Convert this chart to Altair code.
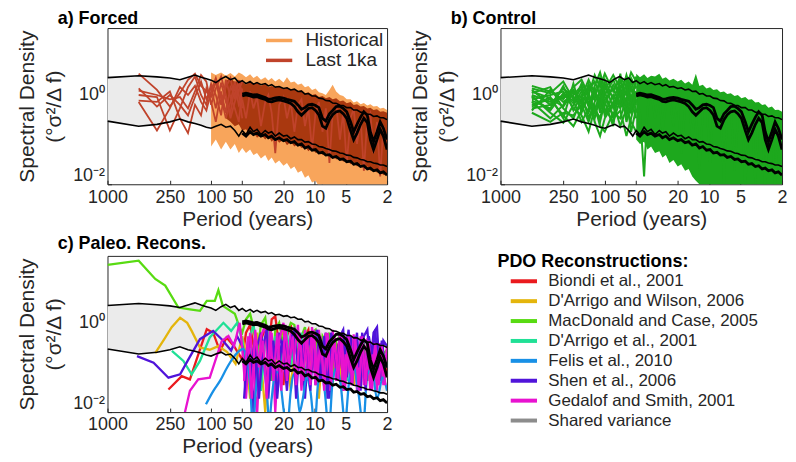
import altair as alt
import pandas as pd

FONT = "Liberation Sans"
INK = "#262626"

# ---------------- shared period grid (years) ----------------
P_SV = [1000, 500, 333, 250, 200, 167, 143, 125, 111, 100, 90, 80, 72, 65, 59, 54,
        50, 46, 42, 39, 36, 33, 30, 28, 26, 24, 22, 20, 18.5, 17, 15.7, 14.5, 13.4, 12.4,
        11.5, 10.6, 9.8, 9.1, 8.4, 7.8, 7.2, 6.7, 6.2, 5.7, 5.3, 4.9, 4.5, 4.2, 3.9, 3.6,
        3.35, 3.1, 2.9, 2.7, 2.5, 2.33, 2.17, 2.0]
GRID_R = P_SV[16:]
P_HIST = P_SV[9:]
P_LKA = P_SV[12:]
# in-between periods for the densest (short-period) part
GRID_F = [48, 44, 40.5, 37.5, 34.5, 31.5, 29, 27, 25, 23, 21, 19.2, 17.7, 16.3, 15.1, 13.9,
          12.9, 11.9, 11.0, 10.2, 9.45, 8.75, 8.1, 7.5, 6.95, 6.45, 5.95, 5.5, 5.1, 4.7, 4.35,
          4.05, 3.75, 3.47, 3.22, 3.0, 2.8, 2.6, 2.41, 2.25, 2.08]

# shared-variance envelope (upper / lower black lines)
SV_HI = [2.45, 2.7, 2.55, 2.4, 2.2, 2.5, 2.8, 2.5, 2.3, 2.15, 1.9, 2.3, 2.6, 2.2, 2.4, 1.9,
         2.1, 1.8, 2.0, 1.75, 1.9, 1.7, 1.8, 1.6, 1.7, 1.5, 1.55, 1.4, 1.45, 1.3, 1.35, 1.2,
         1.22, 1.05, 1.08, 0.95, 0.95, 0.85, 0.83, 0.75, 0.74, 0.66, 0.65, 0.59, 0.58, 0.52,
         0.52, 0.46, 0.46, 0.41, 0.41, 0.37, 0.37, 0.33, 0.34, 0.31, 0.31, 0.28]
SV_LO = [0.26, 0.2, 0.22, 0.25, 0.29, 0.25, 0.23, 0.21, 0.19, 0.18, 0.2, 0.22, 0.19, 0.2, 0.16, 0.12,
         0.16, 0.13, 0.19, 0.15, 0.17, 0.13, 0.16, 0.14, 0.15, 0.12, 0.14, 0.12, 0.125, 0.105, 0.115, 0.1,
         0.1, 0.088, 0.09, 0.08, 0.078, 0.07, 0.068, 0.063, 0.06, 0.056, 0.055, 0.05, 0.049, 0.045,
         0.044, 0.04, 0.039, 0.036, 0.035, 0.032, 0.032, 0.03, 0.029, 0.027, 0.027, 0.025]

# thick black mean spectra (on GRID_R)
MEAN_1 = [1.05, 1.1, 1.05, 1.0, 1.02, 0.95, 0.88, 0.8, 0.82, 0.86, 0.88, 0.85, 0.8, 0.76, 0.72, 0.6,
          0.48, 0.52, 0.6, 0.62, 0.58, 0.52, 0.3, 0.26, 0.38, 0.45, 0.55, 0.56, 0.5, 0.42, 0.25, 0.15,
          0.22, 0.32, 0.42, 0.35, 0.15, 0.09, 0.15, 0.25, 0.18, 0.1]
MEAN_2 = [0.95, 1.0, 0.95, 0.9, 0.92, 0.85, 0.8, 0.72, 0.7, 0.75, 0.78, 0.74, 0.7, 0.65, 0.55, 0.42,
          0.35, 0.42, 0.5, 0.52, 0.45, 0.36, 0.2, 0.18, 0.28, 0.36, 0.42, 0.44, 0.38, 0.3, 0.16, 0.1,
          0.14, 0.22, 0.3, 0.24, 0.1, 0.06, 0.1, 0.17, 0.12, 0.06]
MEAN_3 = [0.14, 0.12, 0.15, 0.13, 0.14, 0.12, 0.13, 0.11, 0.12, 0.1, 0.11, 0.095, 0.1, 0.085, 0.09, 0.075,
          0.08, 0.065, 0.07, 0.058, 0.06, 0.05, 0.052, 0.045, 0.046, 0.04, 0.042, 0.036, 0.037, 0.032,
          0.033, 0.028, 0.029, 0.025, 0.026, 0.022, 0.023, 0.02, 0.021, 0.018, 0.019, 0.016]

# ---------------- a) Forced ----------------
HIST_TOP = [3.2, 2.8, 3.2, 2.7, 3.1, 2.6, 3.2, 2.9, 2.5, 2.9, 2.4, 2.7, 2.2, 2.5, 2.1, 2.4, 2.0,
            2.3, 1.9, 2.5, 1.9, 2.0, 1.7, 1.8, 1.5, 1.6, 1.3, 1.4, 1.15, 1.1, 1.0, 1.3, 1.7, 1.2,
            1.0, 0.95, 0.8, 0.8, 0.68, 0.72, 0.62, 0.66, 0.58, 0.62, 0.55, 0.57, 0.5, 0.52, 0.46]
HIST_BOT = [0.07, 0.1, 0.06, 0.09, 0.06, 0.08, 0.05, 0.065, 0.05, 0.06, 0.045, 0.05, 0.038, 0.045,
            0.033, 0.04, 0.029, 0.034, 0.026, 0.03, 0.022, 0.025, 0.018, 0.02, 0.014, 0.016, 0.011,
            0.012, 0.009, 0.01, 0.008, 0.009, 0.008, 0.008, 0.008, 0.008, 0.008, 0.008, 0.008, 0.008,
            0.008, 0.008, 0.008, 0.008, 0.008, 0.008, 0.008, 0.008, 0.008]
# Last 1ka dense core (on P_LKA, from 72 yr)
LK_TOP = [2.0, 2.5, 1.9, 2.2, 2.0, 1.7, 2.0, 1.8, 1.9, 1.6, 1.8, 1.5, 1.6, 1.45,
          1.6, 1.35, 1.5, 1.3, 1.35, 1.2, 1.3, 1.1, 1.15, 1.0, 1.05, 0.9, 0.95, 0.85, 0.9, 0.8, 0.85,
          0.72, 0.75, 0.65, 0.7, 0.6, 0.62, 0.55, 0.57, 0.5, 0.52, 0.46, 0.48, 0.42, 0.43, 0.4]
LK_BOT = [0.3, 0.25, 0.2, 0.22, 0.16, 0.17, 0.13, 0.15, 0.11, 0.13, 0.1, 0.12, 0.09,
          0.11, 0.085, 0.1, 0.075, 0.09, 0.07, 0.08, 0.065, 0.07, 0.055, 0.065, 0.05, 0.055, 0.045,
          0.05, 0.04, 0.045, 0.036, 0.04, 0.032, 0.036, 0.028, 0.032, 0.025, 0.028, 0.022, 0.025,
          0.02, 0.022, 0.018, 0.02, 0.016, 0.018]
LK_SPIKE = [0.8, 0.3, 1.2, 0.5, 0.9, 0.2, 0.7, 1.0, 0.4, 0.05, 0.6, 0.9, 0.3, 0.7, 0.15, 0.6, 0.8,
            0.2, 0.5, 0.06, 0.4, 0.7, 0.15, 0.5, 0.03, 0.4, 0.6, 0.1, 0.4, 0.03, 0.3, 0.5, 0.08, 0.3,
            0.02, 0.3, 0.4, 0.05, 0.25, 0.015, 0.2, 0.1]
P_LK = [500, 333, 250, 200, 167, 143, 125, 111, 100, 90, 80, 72, 65, 59, 54, 50]
LK_L1 = [3.0, 1.3, 0.55, 1.1, 2.2, 3.0, 1.6, 1.2, 0.9, 2.0, 0.6, 1.5, 2.4, 0.8, 1.8, 1.2]
LK_L2 = [1.4, 0.55, 1.0, 0.6, 0.35, 0.9, 2.0, 0.8, 1.5, 0.5, 1.9, 0.7, 0.4, 1.6, 0.6, 0.9]
LK_L3 = [1.0, 0.9, 0.16, 0.5, 1.5, 2.6, 1.0, 0.6, 1.8, 1.0, 0.35, 2.2, 0.9, 0.5, 0.25, 1.4]
LK_L4 = [0.75, 0.7, 1.2, 0.3, 0.14, 0.6, 0.35, 1.4, 0.7, 0.25, 1.2, 0.4, 1.5, 1.0, 2.1, 0.5]
LK_L5 = [0.7, 0.16, 0.5, 1.5, 1.0, 1.6, 0.7, 0.45, 1.2, 2.4, 0.9, 0.3, 0.7, 2.0, 1.0, 0.3]
LK_L6 = [1.25, 1.0, 0.8, 0.9, 0.5, 1.2, 2.8, 2.0, 0.6, 1.4, 2.6, 1.0, 0.3, 0.7, 1.3, 2.0]

# ---------------- b) Control ----------------
P_GL = [500, 333, 250, 200, 167, 143, 125, 111, 100, 83, 71, 62, 56, 50]
CTRL_LEFT = [
    [1.6, 1.2, 0.8, 1.5, 2.2, 1.0, 2.8, 1.5, 3.0, 1.2, 2.5, 1.5, 3.2, 2.0],
    [1.3, 0.6, 1.4, 0.9, 0.5, 1.8, 0.8, 2.4, 1.0, 2.2, 0.9, 2.8, 1.2, 1.6],
    [1.1, 1.5, 0.5, 0.3, 0.8, 0.4, 1.2, 0.6, 1.8, 0.5, 1.3, 0.7, 0.4, 1.0],
    [0.95, 0.4, 0.24, 0.6, 1.2, 0.7, 0.3, 0.9, 0.5, 0.25, 0.8, 0.35, 0.9, 0.6],
    [0.8, 1.0, 1.2, 0.5, 0.35, 0.15, 0.5, 0.3, 0.8, 1.4, 0.6, 1.9, 0.8, 0.3],
    [0.7, 0.3, 0.6, 1.3, 0.7, 1.3, 2.0, 1.0, 0.35, 0.7, 0.2, 0.5, 0.25, 0.15],
    [0.6, 0.8, 0.35, 0.2, 0.45, 0.9, 0.25, 0.12, 0.3, 0.6, 1.5, 0.25, 0.6, 1.2],
    [0.5, 0.6, 1.0, 0.75, 0.25, 0.5, 1.5, 0.4, 1.2, 0.3, 0.45, 0.12, 0.3, 0.8],
    [0.45, 1.3, 0.7, 1.0, 1.6, 0.6, 0.9, 2.0, 0.6, 1.7, 1.0, 0.6, 1.6, 0.4],
    [0.4, 0.25, 0.4, 0.35, 0.6, 0.25, 0.6, 0.2, 0.15, 0.4, 0.3, 0.9, 0.15, 0.5],
    [1.0, 0.7, 0.9, 1.1, 0.9, 2.2, 1.1, 0.7, 2.2, 0.8, 2.0, 1.0, 2.4, 1.4],
    [0.75, 0.5, 1.6, 0.45, 1.0, 0.3, 0.7, 1.2, 0.4, 1.0, 0.5, 1.3, 0.5, 2.6],
    [0.55, 0.9, 0.3, 1.8, 0.4, 1.1, 0.45, 0.25, 0.7, 0.2, 3.0, 0.4, 1.0, 0.7],
    [1.4, 1.1, 2.0, 0.8, 1.4, 0.55, 1.6, 3.2, 1.3, 2.8, 1.4, 2.2, 0.7, 2.5],
    [0.9, 0.45, 1.1, 0.65, 1.8, 0.95, 0.4, 1.3, 0.9, 0.35, 1.1, 0.6, 2.0, 0.9],
    [1.2, 0.85, 0.55, 1.2, 0.6, 1.5, 1.3, 0.55, 1.5, 0.9, 0.7, 1.7, 0.5, 1.1],
]
CTRL_TOP = [3.0, 2.5, 2.9, 2.4, 2.7, 2.6, 3.0, 2.3, 2.5, 2.1, 2.3, 2.0, 2.2, 1.8, 2.0, 1.7, 3.0,
            1.6, 1.7, 1.4, 1.5, 1.3, 1.35, 1.15, 1.2, 1.05, 1.1, 0.95, 1.0, 0.85, 0.9, 0.78, 0.8,
            0.68, 0.7, 0.6, 0.62, 0.52, 0.55, 0.46, 0.47, 0.42]
CTRL_BOT = [0.1, 0.08, 0.09, 0.06, 0.07, 0.05, 0.055, 0.04, 0.045, 0.03, 0.035, 0.025, 0.028, 0.02,
            0.022, 0.015, 0.012, 0.01, 0.008, 0.008, 0.008, 0.008, 0.008, 0.008, 0.008, 0.008, 0.008,
            0.008, 0.008, 0.008, 0.008, 0.008, 0.008, 0.008, 0.008, 0.008, 0.008, 0.008, 0.008, 0.008,
            0.008, 0.008]
CTRL_SPIKE = [0.8, 0.4, 0.015, 0.5, 1.2, 0.3, 0.9, 0.15, 0.6, 1.0, 0.2, 0.7, 0.05, 0.5, 0.9, 0.1,
              0.6, 0.02, 0.4, 0.7, 0.03, 0.5, 0.2, 0.6, 0.01, 0.4, 0.5, 0.02, 0.3, 0.5, 0.008, 0.3,
              0.4, 0.01, 0.3, 0.2, 0.006, 0.25, 0.3, 0.008, 0.2, 0.1]

# ---------------- c) Paleo reconstructions ----------------
RECON_NAMES = ["Biondi et al., 2001", "D'Arrigo and Wilson, 2006", "MacDonald and Case, 2005",
               "D'Arrigo et al., 2001", "Felis et al., 2010", "Shen et al., 2006",
               "Gedalof and Smith, 2001", "Shared variance"]
RECON_COLORS = ["#EA1A1E", "#E4B50C", "#58DB12", "#20E096", "#1890E6", "#5014DA", "#E812D0", "#8C8C8C"]

BIO_P = [258, 192, 160, 110, 95.5, 82, 71, 60]
BIO_V = [0.032, 0.064, 0.054, 0.72, 0.6, 0.23, 0.47, 0.3]
BIO_R = [0.15, 0.6, 0.9, 0.3, 0.05, 0.4, 0.8, 0.2, 1.2, 1.4, 0.3, 0.04, 0.5, 0.9, 0.25, 0.6, 0.08,
         0.5, 0.7, 0.12, 0.4, 0.6, 0.05, 0.3, 0.5, 0.1, 0.35, 0.2, 0.03, 0.3, 0.4, 0.07, 0.25, 0.15,
         0.3, 0.05, 0.2, 0.25, 0.04, 0.15, 0.2, 0.08]
DAW_P = [346, 280, 240, 199, 170, 154, 128, 103, 85, 70, 58]
DAW_V = [0.21, 0.45, 0.8, 1.3, 1.0, 0.66, 0.28, 0.25, 0.3, 0.22, 0.12]
DAW_R = [0.5, 0.2, 0.02, 0.3, 0.6, 0.15, 0.01, 0.2, 0.5, 0.1, 0.4, 0.7, 0.2, 0.03, 0.3, 0.5, 0.1,
         0.3, 0.05, 0.4, 0.2, 0.02, 0.3, 0.4, 0.08, 0.2, 0.3, 0.05, 0.25, 0.1, 0.3, 0.04, 0.2, 0.25,
         0.06, 0.2, 0.1, 0.25, 0.05, 0.18, 0.1, 0.15]
MAC_P = [1000, 500, 346, 277, 207, 160, 128, 110, 92, 85, 77, 59, 53]
MAC_V = [20, 24.7, 9.6, 6.8, 2.2, 2.0, 1.86, 3.1, 3.1, 5.4, 2.4, 1.6, 0.78]
MAC_R = [0.6, 1.2, 1.6, 0.8, 0.2, 0.9, 1.3, 0.4, 0.05, 0.7, 1.0, 0.3, 0.6, 1.0, 0.9, 0.15, 0.5,
         0.8, 0.2, 0.6, 0.7, 0.1, 0.5, 0.35, 0.6, 0.04, 0.4, 0.5, 0.1, 0.4, 0.2, 0.45, 0.06, 0.3,
         0.35, 0.1, 0.3, 0.12, 0.3, 0.05, 0.2, 0.25]
DA1_P = [239, 185, 154, 128, 103, 76, 64, 56]
DA1_V = [0.235, 0.14, 0.07, 0.14, 0.47, 1.0, 0.66, 1.0]
DA1_R = [0.4, 0.1, 0.5, 0.9, 0.3, 0.03, 0.4, 0.7, 0.2, 0.5, 0.08, 0.4, 0.6, 0.1, 0.4, 0.3, 0.6,
         0.05, 0.3, 0.5, 0.1, 0.35, 0.2, 0.03, 0.3, 0.4, 0.1, 0.3, 0.15, 0.05, 0.25, 0.3, 0.08, 0.2,
         0.1, 0.25, 0.04, 0.2, 0.15, 0.06, 0.2, 0.1]
FEL_P = [112, 95, 82, 70, 61, 55, 49, 45, 42, 39.5, 37, 35, 33, 31, 29, 27.5, 26, 24.5, 23, 21.5,
         20, 18.5, 17, 16, 15, 14, 13, 12, 11, 10, 9.3, 8.6, 8, 7.3, 6.7, 6.1, 5.6, 5.1, 4.6, 4.2,
         3.8, 3.4, 3.1, 2.8, 2.5, 2.2, 2.0]
FEL_V = [0.015, 0.03, 0.05, 0.1, 0.166, 0.22, 0.26, 0.15, 0.04, 0.005, 0.03, 0.1, 0.15, 0.1, 0.03,
         0.006, 0.02, 0.06, 0.08, 0.05, 0.012, 0.004, 0.03, 0.07, 0.05, 0.01, 0.02, 0.06, 0.03, 0.005,
         0.04, 0.08, 0.03, 0.004, 0.05, 0.1, 0.04, 0.006, 0.06, 0.1, 0.03, 0.005, 0.07, 0.09, 0.02,
         0.06, 0.03]
SHE_P = [519, 359, 258, 199, 166, 128, 95.5, 79, 64, 56]
SHE_V = [0.18, 0.128, 0.059, 0.07, 0.15, 0.43, 0.66, 0.43, 0.24, 0.5]
SHE_R = [0.3, 0.05, 0.2, 0.01, 0.3, 0.6, 0.1, 0.02, 0.4, 0.15, 0.6, 0.2, 0.03, 0.5, 0.7, 0.1, 0.4,
         0.02, 0.3, 0.6, 0.04, 0.5, 0.3, 0.6, 0.02, 0.4, 0.15, 0.5, 0.7, 0.06, 0.5, 0.2, 0.6, 0.03,
         0.5, 0.7, 0.1, 0.6, 0.8, 0.05, 0.4, 0.3]
GED_P = [185, 160, 133, 103, 79, 68, 60, 53]
GED_V = [0.007, 0.03, 0.054, 0.059, 0.39, 0.51, 0.3, 1.0]
GED_R = [0.28, 0.02, 0.6, 0.1, 0.008, 0.5, 0.9, 0.05, 0.6, 0.01, 0.4, 1.0, 0.05, 0.6, 0.2, 0.9,
         0.03, 0.7, 0.05, 0.8, 0.04, 0.7, 0.06, 0.6, 0.03, 0.7, 0.05, 0.6, 0.03, 0.5, 0.04, 0.55,
         0.03, 0.5, 0.04, 0.45, 0.03, 0.4, 0.03, 0.35, 0.04, 0.3]
# second segments on the in-between grid (dense short-period part)
GED_F = [0.05, 0.5, 0.02, 0.7, 0.1, 0.4, 0.02, 0.8, 0.05, 0.6, 0.03, 0.9, 0.1, 0.5, 0.04, 0.6,
         0.05, 0.6, 0.04, 0.7, 0.05, 0.5, 0.03, 0.6, 0.04, 0.5, 0.05, 0.55, 0.03, 0.5, 0.04, 0.45,
         0.03, 0.5, 0.04, 0.4, 0.03, 0.35, 0.04, 0.3, 0.04]
SHE_F = [0.02, 0.4, 0.1, 0.5, 0.02, 0.3, 0.7, 0.05, 0.4, 0.02, 0.3, 0.5, 0.1, 0.6, 0.02, 0.4,
         0.1, 0.5, 0.03, 0.4, 0.7, 0.05, 0.5, 0.02, 0.6, 0.3, 0.05, 0.6, 0.2, 0.7, 0.04, 0.5,
         0.1, 0.6, 0.03, 0.5, 0.2, 0.7, 0.05, 0.4, 0.1]

# ---------------- helpers ----------------
def long_df(items):
    rows = []
    for name, group, ps, vs in items:
        assert len(ps) == len(vs), name
        for p, v in zip(ps, vs):
            rows.append({"series": name, "group": group, "period": p, "value": v})
    return pd.DataFrame(rows)


def band_df(ps, lo, hi):
    assert len(ps) == len(lo) == len(hi)
    return pd.DataFrame({"period": ps, "lo": lo, "hi": hi})


XAXIS = alt.Axis(values=[1000, 250, 100, 50, 20, 10, 5, 2], format="d", title="Period (years)",
                 labelPadding=4, titlePadding=2, labelFlush=False, labelOverlap=False)
YAXIS = alt.Axis(values=[0.01, 1], labelExpr="datum.value >= 1 ? '10⁰' : '10⁻²'",
                 title=["Spectral Density", "(°σ²/Δ f)"], titleLineHeight=27, labelPadding=3,
                 titlePadding=8, labelFlush=True, labelOverlap=False)
XS = alt.Scale(type="log", domain=[2, 1000], reverse=True, nice=False)
YS = alt.Scale(type="log", domain=[0.01, 31.62], nice=False)
X = alt.X("period:Q", scale=XS, axis=XAXIS)


def Y(field="value"):
    return alt.Y(f"{field}:Q", scale=YS, axis=YAXIS)


def common_under():
    return alt.Chart(band_df(P_SV, SV_LO, SV_HI)).mark_area(color="#EBEBEB", clip=True).encode(
        x=X, y=Y("lo"), y2="hi:Q")


def common_over():
    sv = long_df([("hi", "sv", P_SV, SV_HI), ("lo", "sv", P_SV, SV_LO)])
    means = long_df([("m1", "m", GRID_R, MEAN_1), ("m2", "m", GRID_R, MEAN_2),
                     ("m3", "m", GRID_R, MEAN_3)])
    l1 = alt.Chart(sv).mark_line(color="black", strokeWidth=1.6, clip=True).encode(
        x=X, y=Y(), detail="series:N")
    l2 = alt.Chart(means).mark_line(color="black", strokeWidth=2.8, clip=True).encode(
        x=X, y=Y(), detail="series:N")
    return [l1, l2]


def title(txt):
    return alt.TitleParams(txt, anchor="start", frame="group", dx=-50, fontSize=18,
                           fontWeight="bold", offset=0, color="black", font=FONT)


HIST_C = "#F8A55B"
LK_C = "#C0432B"
SYM = "M-2.4,0H2.4"

# ---- panel a ----
leg_a = alt.Legend(orient="top-right", title=None, symbolType=SYM, symbolSize=121,
                   symbolStrokeWidth=3.5, labelFontSize=19, rowPadding=0, labelOffset=17,
                   offset=3, padding=0, labelLimit=300)
color_a = alt.Color("group:N", scale=alt.Scale(domain=["Historical", "Last 1ka"], range=[HIST_C, LK_C]),
                    legend=leg_a)
hist_area = alt.Chart(band_df(P_HIST, HIST_BOT, HIST_TOP)).mark_area(color=HIST_C, clip=True).encode(
    x=X, y=Y("lo"), y2="hi:Q")
lk_area = alt.Chart(band_df(P_LKA, LK_BOT, LK_TOP)).mark_area(color="#A9380F", clip=True).encode(
    x=X, y=Y("lo"), y2="hi:Q")
lk_lines = long_df([(f"lk{i}", "Last 1ka", P_LK, v) for i, v in
                    enumerate([LK_L1, LK_L2, LK_L3, LK_L4, LK_L5, LK_L6])]
                   + [("lks", "Last 1ka", GRID_R, LK_SPIKE)])
lk_layer = alt.Chart(lk_lines).mark_line(strokeWidth=1.8, clip=True).encode(
    x=X, y=Y(), detail="series:N", color=color_a)
panel_a = alt.layer(common_under(), hist_area, lk_area, lk_layer, *common_over()).properties(
    width=281, height=157, title=title("a) Forced"))

# ---- panel b ----
GREEN = "#1DA81D"
ctrl = long_df([(f"g{i}", "c", P_GL, v) for i, v in enumerate(CTRL_LEFT)]
               + [("gs", "c", GRID_R, CTRL_SPIKE)])
ctrl_area = alt.Chart(band_df(GRID_R, CTRL_BOT, CTRL_TOP)).mark_area(color=GREEN, clip=True).encode(
    x=X, y=Y("lo"), y2="hi:Q")
ctrl_layer = alt.Chart(ctrl).mark_line(color=GREEN, strokeWidth=2.0, clip=True).encode(
    x=X, y=Y(), detail="series:N")
panel_b = alt.layer(common_under(), ctrl_area, ctrl_layer, *common_over()).properties(
    width=283, height=157, title=title("b) Control"))

# ---- panel c ----
leg_c = alt.Legend(orient="none", legendX=392, legendY=-3, title="PDO Reconstructions:",
                   titleFontSize=18, titleFontWeight="bold", titleColor="black", titleLimit=400,
                   labelFontSize=17, labelLimit=400, symbolType=SYM, symbolSize=121,
                   symbolStrokeWidth=4, rowPadding=2, symbolOffset=18, labelOffset=16,
                   padding=0, titlePadding=2)
CSCALE = alt.Scale(domain=RECON_NAMES, range=RECON_COLORS)
color_c = alt.Color("series:N", scale=CSCALE, legend=leg_c, sort=RECON_NAMES)
recon = long_df([
    (RECON_NAMES[0], 0, BIO_P + GRID_R, BIO_V + BIO_R),
    (RECON_NAMES[1], 1, DAW_P + GRID_R, DAW_V + DAW_R),
    (RECON_NAMES[2], 2, MAC_P + GRID_R, MAC_V + MAC_R),
    (RECON_NAMES[3], 3, DA1_P + GRID_R, DA1_V + DA1_R),
    (RECON_NAMES[5], 5, SHE_P + GRID_R, SHE_V + SHE_R),
    (RECON_NAMES[6], 6, GED_P + GRID_R, GED_V + GED_R),
])
dense = long_df([
    (RECON_NAMES[5], 5, GRID_F, SHE_F),
    (RECON_NAMES[6], 6, GRID_F, GED_F),
])
felis = long_df([(RECON_NAMES[4], 4, FEL_P, FEL_V)])
recon_layer = alt.Chart(recon).mark_line(strokeWidth=2.3, clip=True).encode(
    x=X, y=Y(), color=color_c)
felis_layer = alt.Chart(felis).mark_line(strokeWidth=2.3, clip=True, interpolate="monotone").encode(
    x=X, y=Y(), color=alt.Color("series:N", scale=CSCALE, legend=None))
dense_layer = alt.Chart(dense).mark_line(strokeWidth=2.3, clip=True).encode(
    x=X, y=Y(), color=alt.Color("series:N", scale=CSCALE, legend=None))
panel_c = alt.layer(common_under(), recon_layer, felis_layer, dense_layer, *common_over()).properties(
    width=281, height=157, title=title("c) Paleo. Recons."))

top = alt.hconcat(panel_a, panel_b, spacing=16).resolve_scale(color="independent")
chart = alt.vconcat(top, panel_c, spacing=4).resolve_scale(color="independent").properties(
    padding={"left": 8, "top": 0, "right": 0, "bottom": 0}
).configure(font=FONT).configure_view(stroke=INK, strokeWidth=1).configure_axis(
    grid=False, domain=False, labelColor=INK, titleColor=INK, tickColor=INK, labelFont=FONT,
    titleFont=FONT, titleFontWeight="normal", labelFontSize=18, titleFontSize=21, tickSize=4,
    tickWidth=1, offset=-4
).configure_legend(labelFont=FONT, titleFont=FONT, labelColor=INK)

chart.save("out.html", embed_options={"renderer": "svg", "actions": False})
